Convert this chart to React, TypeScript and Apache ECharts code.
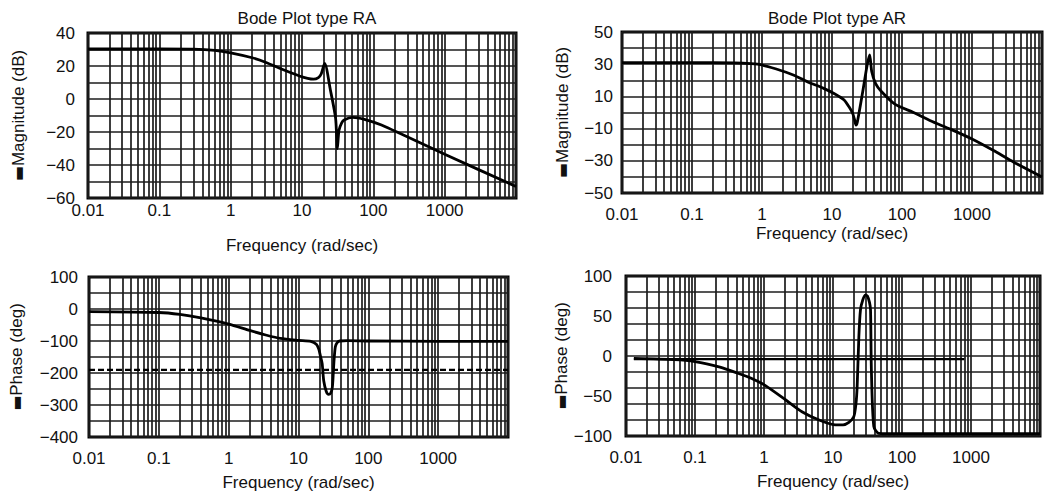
import React, { useEffect, useRef } from "react";
import * as echarts from "echarts";

// ---------- data ----------
const xTickLabels = ["0.01", "0.1", "1", "10", "100", "1000"];

// Top-left: Bode Plot type RA — magnitude (dB)
const raMagFreq = [0.01, 0.1, 0.3, 0.6, 1, 2, 3.2, 4.85, 9.4, 12, 14.5, 17, 18.5, 20.8, 25, 29.6, 31.3, 33, 36, 39, 51, 75, 130, 1000, 10000];
const raMagDb = [30.3, 30.3, 30.2, 29.5, 28, 25, 22, 18.6, 13.8, 12.5, 12, 13, 15, 21.6, 5.5, -11.7, -30, -19, -14.5, -12.7, -11.1, -12.3, -15.8, -33.5, -53];

// Top-right: Bode Plot type AR — magnitude (dB)
const arMagFreq = [0.01, 0.1, 0.4, 0.7, 1, 1.6, 2.8, 4.5, 7.6, 11, 14.9, 17.5, 19.7, 21, 22, 23, 27.5, 31.8, 34.5, 37, 42, 50.8, 79, 146, 250, 500, 1000, 2000, 4000, 10000];
const arMagDb = [31, 31, 30.8, 30.3, 29.5, 27, 23.3, 19, 15, 11.5, 7.8, 3.5, -0.5, -4.5, -7.8, -6, 13, 29.5, 35.7, 25.3, 18, 13, 5.2, 0, -5, -10.5, -16.5, -23.5, -31, -40];

// Bottom-left: RA phase (deg)
const raPhaseFreq = [0.01, 0.1, 0.2, 0.4, 1, 2, 3.5, 5.5, 10, 15, 18, 19.5, 20.5, 21.8, 23, 25, 27, 29, 30.5, 31.5, 32.3, 33.7, 36, 39, 50, 100, 1000, 10000];
const raPhaseDeg = [-8, -11, -17, -28, -47, -67, -82, -92, -98, -101, -110, -125, -145, -170, -225, -258, -267, -262, -245, -200, -160, -118, -104, -100, -99, -100, -101, -101];
const raPhaseRefFreq = [0.01, 10000];
const raPhaseRefDeg = [-190, -190];

// Bottom-right: AR phase (deg)
const arPhaseFreq = [0.013, 0.05, 0.1, 0.23, 0.4, 0.7, 1.05, 2.07, 3.6, 6.3, 10.9, 14, 17, 20, 21.5, 22.4, 23.7, 25, 27, 29.5, 31.5, 33.8, 35, 36, 39, 46, 100, 1000, 10000];
const arPhaseDeg = [-3, -4.5, -7, -14, -21, -29, -37, -55, -70, -80, -86, -86, -83, -76, -60, -38, 24, 57.5, 70, 76, 75, 67, 57.5, -17.5, -88, -96.6, -97, -97, -97];
const arPhaseRefFreq = [0.013, 800];
const arPhaseRefDeg = [-4, -4];

const decades = [0.01, 0.1, 1, 10, 100, 1000];
const minorMultipliers = [2, 3, 4, 5, 6, 7, 8, 9];

// ---------- styling ----------
const FONT = "'Liberation Sans', Arial, Helvetica, sans-serif";
const FS = 17;
const TXT = "#111";
const GRID_COLOR = "#1c1c1c";
const GRID_W = 1.7;

const pairs = (xs: number[], ys: number[]) => xs.map((x, i) => [x, ys[i]]);
const minus = (v: number) => String(v).replace("-", "\u2212");

const fmtX = (v: number) => {
  const i = Math.round(Math.log10(v)) + 2;
  return i >= 0 && i < xTickLabels.length ? xTickLabels[i] : "";
};

export default function App() {
  const ref = useRef<HTMLDivElement>(null);

  useEffect(() => {
    if (!ref.current) return;
    const chart = echarts.init(ref.current, undefined, { renderer: "svg" });

    const minorGrid: number[] = [];
    decades.forEach((d) => minorMultipliers.forEach((m) => minorGrid.push(+(d * m).toPrecision(3))));

    const grids = [
      { left: 88, top: 33, width: 428, height: 165 },
      { left: 622, top: 32, width: 420, height: 161 },
      { left: 89, top: 277, width: 419, height: 160 },
      { left: 626, top: 276, width: 414, height: 160 },
    ];
    const xLabelMargin = [4, 13, 13, 13];
    const xNameGap = [39, 32, 37, 37];

    const textStyle = { fontFamily: FONT, fontSize: FS, color: TXT };

    const xAxis = grids.map((_, i) => ({
      type: "log",
      gridIndex: i,
      min: 0.01,
      max: 10000,
      logBase: 10,
      splitNumber: 6,
      axisLine: { show: false },
      axisTick: { show: false },
      axisLabel: { ...textStyle, formatter: fmtX, margin: xLabelMargin[i], showMinLabel: true, showMaxLabel: true },
      splitLine: { show: true, lineStyle: { color: GRID_COLOR, width: GRID_W } },
      name: "Frequency (rad/sec)",
      nameLocation: "middle",
      nameGap: xNameGap[i],
      nameTextStyle: { ...textStyle },
    }));

    const nameRich = {
      bar: { fontFamily: "'DejaVu Sans'", fontSize: 16, color: TXT },
    };

    const yBase = (i: number) => ({
      type: "value",
      gridIndex: i,
      position: "left",
      axisLine: { show: false },
      axisTick: { show: false },
      nameLocation: "middle",
      nameTextStyle: { ...textStyle, rich: nameRich },
    });

    const yAxis: any[] = [
      {
        ...yBase(0),
        min: -60,
        max: 40,
        interval: 10,
        name: "{bar|\u25AC}Magnitude (dB)",
        nameGap: 61,
        axisLabel: { ...textStyle, margin: 13, formatter: (v: number) => (v % 20 === 0 ? minus(v) : "") },
        splitLine: { show: true, lineStyle: { color: GRID_COLOR, width: GRID_W } },
      },
      {
        ...yBase(1),
        min: -50,
        max: 50,
        interval: 10,
        name: "{bar|\u25AC}Magnitude (dB)",
        nameGap: 51,
        axisLabel: { ...textStyle, margin: 9, formatter: (v: number) => ((v + 50) % 20 === 0 ? minus(v) : "") },
        splitLine: { show: true, lineStyle: { color: GRID_COLOR, width: GRID_W } },
      },
      {
        ...yBase(2),
        min: -400,
        max: 100,
        interval: 50,
        name: "{bar|\u25AC}Phase (deg)",
        nameGap: 64,
        axisLabel: { ...textStyle, margin: 11, formatter: (v: number) => (v % 100 === 0 ? minus(v) : "") },
        splitLine: { show: true, lineStyle: { color: GRID_COLOR, width: GRID_W } },
      },
      {
        ...yBase(3),
        min: -100,
        max: 100,
        interval: 20,
        axisLabel: { show: false },
        splitLine: { show: true, lineStyle: { color: GRID_COLOR, width: GRID_W } },
      },
      {
        ...yBase(3),
        min: -100,
        max: 100,
        interval: 50,
        offset: 0,
        name: "{bar|\u25AC}Phase (deg)",
        nameGap: 53,
        axisLabel: { ...textStyle, margin: 14, formatter: (v: number) => minus(v) },
        splitLine: { show: false },
      },
    ];

    const gridSeries = grids.map((_, i) => ({
      type: "line",
      xAxisIndex: i,
      yAxisIndex: i,
      data: [],
      z: 1,
      silent: true,
      markLine: {
        silent: true,
        symbol: ["none", "none"],
        label: { show: false },
        animation: false,
        lineStyle: { color: GRID_COLOR, width: GRID_W, type: "solid" },
        data: minorGrid.map((v) => ({ xAxis: v })),
      },
    }));

    const curve = (i: number, yi: number, data: number[][], extra: any = {}) => ({
      type: "line",
      xAxisIndex: i,
      yAxisIndex: yi,
      data,
      showSymbol: false,
      smooth: 0.25,
      z: 5,
      lineStyle: { color: "#000", width: 2.8 },
      ...extra,
    });

    chart.setOption({
      animation: false,
      backgroundColor: "#fff",
      title: [
        { text: "Bode Plot type RA", left: 302, top: 5, textAlign: "center", textStyle: { ...textStyle, fontWeight: "normal" } },
        { text: "Bode Plot type AR", left: 832, top: 5, textAlign: "center", textStyle: { ...textStyle, fontWeight: "normal" } },
      ],
      grid: grids.map((g) => ({ ...g, show: true, borderColor: "#000", borderWidth: 3, backgroundColor: "#fff" })),
      xAxis,
      yAxis,
      series: [
        ...gridSeries,
        curve(0, 0, pairs(raMagFreq, raMagDb)),
        curve(1, 1, pairs(arMagFreq, arMagDb)),
        curve(2, 2, pairs(raPhaseFreq, raPhaseDeg)),
        curve(2, 2, pairs(raPhaseRefFreq, raPhaseRefDeg), {
          smooth: false,
          lineStyle: { color: "#000", width: 2.2, type: [6, 3] },
        }),
        curve(3, 3, pairs(arPhaseFreq, arPhaseDeg)),
        curve(3, 3, pairs(arPhaseRefFreq, arPhaseRefDeg), {
          smooth: false,
          lineStyle: { color: "#000", width: 2.2 },
        }),
      ],
    });

    return () => chart.dispose();
  }, []);

  return (
    <div
      ref={ref}
      style={{ position: "absolute", left: 0, top: 0, width: 1053, height: 499, background: "#fff" }}
    />
  );
}
